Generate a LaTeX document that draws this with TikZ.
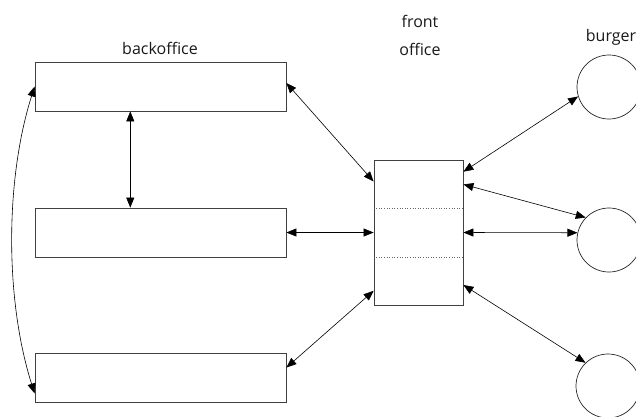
\documentclass[tikz,border=0pt]{standalone}
\usepackage{fontspec}
\setmainfont{Open Sans}
\usetikzlibrary{calc,arrows.meta}
\begin{document}
\begin{tikzpicture}[x=1pt,y=-1pt,
  boxstyle/.style={draw=black!75,line width=0.8pt,rectangle,inner sep=0pt,
    minimum width=251pt,minimum height=49pt},
  frontbox/.style={draw=black!75,line width=0.8pt,rectangle,inner sep=0pt,
    minimum width=89pt,minimum height=145pt},
  burgerc/.style={draw=black!85,line width=0.7pt,circle,inner sep=0pt,minimum size=64pt},
  link/.style={line width=0.6pt,{Triangle[length=10pt,width=8pt]}-{Triangle[length=10pt,width=8pt]}},
  lbl/.style={font=\fontsize{16}{18}\selectfont,text=black!90,align=center,inner sep=0pt}]
\useasboundingbox (0,0) rectangle (636,416);
\clip (0,0) rectangle (636,416);

% back office boxes
\node[boxstyle] (b1) at (160.5,86.5) {};
\node[boxstyle] (b2) at (160.5,232.5) {};
\node[boxstyle] (b3) at (160.5,378) {};

% front office, split in three parts
\node[frontbox] (fo) at (418.5,232.5) {};
\draw[black!60,line width=0.6pt,dotted] ($(fo.north west)!0.331!(fo.south west)$) -- ($(fo.north east)!0.331!(fo.south east)$);
\draw[black!60,line width=0.6pt,dotted] ($(fo.north west)!0.669!(fo.south west)$) -- ($(fo.north east)!0.669!(fo.south east)$);

% burgers
\node[burgerc] (c1) at (609,87) {};
\node[burgerc] (c2) at (609,240) {};
\node[burgerc] (c3) at (608,386) {};

% labels
\node[lbl] (tb) at (160,48) {backoffice};
\node[lbl] (tf) at (420,35) {front\\[10pt]office};
\node[lbl] (tc) at (611,37) {burger};

% back office links
\draw[link] ($(b1.south west)!0.38!(b1.south east)$) -- ($(b2.north west)!0.38!(b2.north east)$);
\draw[link] (b1.west) .. controls (5,180) and (5,300) .. ($(b3.north west)!0.81!(b3.south west)$);

% back office to front office
\draw[link] ($(b1.north east)!0.43!(b1.south east)$) -- ($(fo.north west)!0.15!(fo.south west)$);
\draw[link] (b2.east) -- (fo.west);
\draw[link] ($(b3.north east)!0.29!(b3.south east)$) -- ($(fo.north west)!0.9!(fo.south west)$);

% front office to burgers
\draw[link] ($(fo.north east)!0.083!(fo.south east)$) -- (c1.197);
\draw[link] ($(fo.north east)!0.17!(fo.south east)$) -- (c2.136);
\draw[link] (fo.east) -- (c2.167);
\draw[link] ($(fo.north east)!0.86!(fo.south east)$) -- (c3.134);
\end{tikzpicture}
\end{document}
